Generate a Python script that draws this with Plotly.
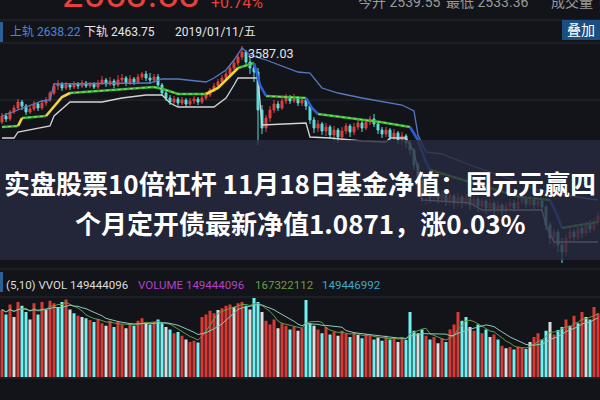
import plotly.graph_objects as go
import pandas as pd

W, H = 600, 400
BG = '#121419'
RED = '#e0403c'
CYAN = '#5fdcdc'

# ---------------- price candles (index points) ----------------
price_open = [3207,3237,3222,3257,3277,3307,3287,3257,3272,3297,
              3277,3302,3317,3352,3387,3397,3377,3392,3382,3397,
              3387,3402,3387,3397,3382,3402,3417,3397,3412,3392,
              3417,3427,3402,3422,3407,3432,3447,3427,3417,3432,
              3392,3352,3327,3307,3322,3302,3317,3297,3312,3322,
              3307,3327,3342,3367,3387,3407,3427,3447,3477,3502,
              3532,3557,3507,3477,3457,3267,3177,3227,3267,3297,
              3277,3312,3332,3312,3327,3302,3317,3287,3217,3177,
              3197,3162,3182,3142,3167,3132,3162,3187,3157,3182,
              3202,3177,3207,3222,3197,3167,3147,3167,3132,3152,
              3117,3137,3102,3067,2992,2917,2842,2867,2827,2857,
              2822,2847,2812,2837,2802,2832,2807,2827,2792,2822,
              2787,2812,2777,2802,2767,2792,2762,2787,2802,2777,
              2807,2822,2797,2817,2792,2812,2782,2692,2627,2657,
              2592,2557,2627,2657,2632,2677,2652,2692,2672,2707]
price_high = [3252,3252,3267,3292,3322,3317,3297,3287,3312,3307,
              3317,3332,3362,3402,3417,3407,3407,3402,3412,3407,
              3417,3412,3407,3407,3417,3437,3427,3432,3422,3442,
              3447,3437,3442,3432,3447,3457,3462,3452,3447,3447,
              3402,3367,3342,3337,3332,3332,3327,3327,3337,3332,
              3342,3357,3377,3402,3422,3442,3462,3492,3517,3547,
              3587.03,3567,3527,3497,3477,3292,3242,3287,3317,3312,
              3327,3347,3342,3347,3337,3332,3327,3297,3232,3217,
              3207,3202,3192,3187,3177,3182,3202,3197,3202,3217,
              3212,3222,3237,3247,3212,3182,3182,3177,3172,3162,
              3157,3147,3117,3077,3007,2937,2887,2882,2877,2872,
              2867,2862,2857,2847,2852,2842,2847,2837,2837,2832,
              2827,2822,2822,2812,2812,2802,2807,2822,2817,2827,
              2842,2837,2837,2832,2832,2822,2792,2707,2677,2672,
              2627,2647,2677,2672,2697,2692,2712,2717,2727,2757]
price_low = [3197,3207,3212,3247,3267,3267,3242,3247,3262,3262,
             3267,3287,3307,3342,3367,3362,3367,3367,3372,3372,
             3377,3377,3377,3372,3372,3392,3382,3387,3377,3382,
             3402,3387,3392,3392,3397,3417,3412,3397,3402,3377,
             3337,3312,3292,3297,3287,3292,3282,3287,3297,3292,
             3297,3317,3332,3357,3377,3397,3417,3437,3467,3487,
             3517,3487,3447,3407,3092,3147,3157,3207,3252,3262,
             3267,3297,3297,3302,3287,3287,3267,3197,3152,3157,
             3142,3137,3122,3117,3102,3112,3147,3132,3142,3167,
             3157,3167,3192,3182,3147,3127,3132,3112,3117,3097,
             3092,3077,3042,2967,2887,2807,2792,2802,2807,2797,
             2802,2787,2792,2772,2782,2777,2787,2767,2772,2757,
             2767,2747,2757,2742,2752,2737,2747,2767,2757,2762,
             2792,2777,2782,2772,2777,2757,2667,2597,2582,2557,
             2502,2537,2607,2612,2617,2627,2637,2652,2662,2692]
price_close = [3237,3222,3257,3277,3307,3287,3257,3272,3297,3277,
               3302,3317,3352,3387,3397,3377,3392,3382,3397,3387,
               3402,3387,3397,3382,3402,3417,3397,3412,3392,3417,
               3427,3402,3422,3407,3432,3447,3427,3417,3432,3392,
               3352,3327,3307,3322,3302,3317,3297,3312,3322,3307,
               3327,3342,3367,3387,3407,3427,3447,3477,3502,3532,
               3557,3507,3477,3457,3267,3177,3227,3267,3297,3277,
               3312,3332,3312,3327,3302,3317,3287,3217,3177,3197,
               3162,3182,3142,3167,3132,3162,3187,3157,3182,3202,
               3177,3207,3222,3197,3167,3147,3167,3132,3152,3117,
               3137,3102,3067,2992,2917,2842,2867,2827,2857,2822,
               2847,2812,2837,2802,2832,2807,2827,2792,2822,2787,
               2812,2777,2802,2767,2792,2762,2787,2802,2777,2807,
               2822,2797,2817,2792,2812,2782,2692,2627,2657,2592,
               2557,2627,2657,2632,2677,2652,2692,2672,2707,2737]
bar_index = list(range(len(price_close)))

# ---------------- channel lines ----------------
upper_x = [0,10,12,13,37,40,44,51,53,56,58,60,62,66,74,77,80,84,90,94,100,103,104,106,110,117,124,130,134,140,149]
upper_y = [3237,3312,3317,3397,3402,3422,3422,3407,3427,3467,3517,3577,3542,3517,3457,3452,3377,3352,3327,3312,
           3292,3262,3142,3057,3047,2992,2942,2902,2867,2842,2817]
lower_x = [0,3,4,12,13,16,17,25,30,36,40,42,44,53,56,58,59,64,65,76,77,82,90,96,97,101,102,103,104,105,117,120,135,136,138,149]
lower_y = [3127,3127,3157,3187,3237,3292,3307,3307,3327,3342,3342,3302,3282,3282,3327,3392,3427,3427,3192,3202,
           3132,3127,3112,3107,3127,3127,3092,3057,2967,2817,2802,2767,2767,2692,2607,2607]

# trend line, split by state (None separates segments)
trend_flat_x = [0,4,None,5,11,None,17,25,32,38,41,44,51,None,59,63,None,66,76,None,79,87,94.5,102,None,107,117,129.5,137,None,140,149]
trend_flat_y = [3182,3187,None,3227,3237,None,3352,3362,3372,3382,3367,3347,3347,None,3477,3502,None,3337,3327,None,
                3247,3227,3207,3182,None,2967,2907,2832,2817,None,2677,2707]
trend_up_x = [4,5,None,11,13,15,17,None,51,54,57,59]
trend_up_y = [3187,3227,None,3237,3287,3332,3352,None,3347,3377,3437,3477]
trend_down_x = [63,64.5,66,None,76,77.5,79,None,102,104,105.75,107,None,137,138.75,140]
trend_down_y = [3502,3392,3337,None,3327,3277,3247,None,3182,3117,3017,2967,None,2817,2742,2677]

# ---------------- volume ----------------
volume = [270,250,290,240,300,285,260,230,295,250,
          300,270,305,295,280,300,310,270,255,245,
          240,235,228,220,232,215,205,225,200,220,
          210,195,215,205,225,235,215,210,220,230,
          215,200,190,175,180,165,150,140,145,138,
          240,250,265,255,268,275,285,290,280,295,
          300,285,270,316,300,260,225,210,230,195,
          215,205,190,200,185,195,308,215,205,190,
          175,200,170,180,165,185,172,160,178,168,
          155,172,165,150,158,145,165,150,160,140,
          158,148,260,185,175,190,165,150,160,135,
          155,140,190,210,260,225,240,200,185,210,
          175,190,160,170,150,125,115,120,110,122,
          118,112,140,160,175,150,185,220,170,188,
          200,230,205,245,215,260,240,230,280,255]
volume_kind = list("rcrwrccwrc" "rwrrccrwcr" "wcrcrrwrcr" "rwrcrrwcrc" "cwcrcrwrrc"
                   "rrrrwrrrwr" "rcwccwrrrw" "rrcrwrccwr" "crcrwrrcrw" "crrcwcrcrw"
                   "rcccwcrcrw" "rcrrrccwrc" "rcwrcrwrcr" "rcwrrccwrc" "crwrcrwcrr")
kind_color = {'r': '#d93a36', 'c': '#6ff3f3', 'w': '#dcdcdc'}
vol_ma5 = pd.Series(volume).rolling(5, min_periods=1).mean()
vol_ma10 = pd.Series(volume).rolling(10, min_periods=1).mean()

fig = go.Figure()
fig.add_trace(go.Candlestick(
    x=bar_index, open=price_open, high=price_high, low=price_low, close=price_close,
    increasing=dict(line=dict(color=RED, width=1), fillcolor=RED),
    decreasing=dict(line=dict(color=CYAN, width=1), fillcolor=CYAN),
    whiskerwidth=0, showlegend=False, hoverinfo='skip'))
fig.add_trace(go.Scatter(x=upper_x, y=upper_y, mode='lines', line=dict(color='#5878c0', width=1.3),
                         showlegend=False, hoverinfo='skip'))
fig.add_trace(go.Scatter(x=lower_x, y=lower_y, mode='lines', line=dict(color='#d4d4d4', width=1.3),
                         showlegend=False, hoverinfo='skip'))
fig.add_trace(go.Scatter(x=trend_flat_x, y=trend_flat_y, mode='lines', line=dict(color='#36b836', width=2.6),
                         showlegend=False, hoverinfo='skip', connectgaps=False))
fig.add_trace(go.Scatter(x=trend_flat_x, y=trend_flat_y, mode='lines', line=dict(color='#9ee07a', width=1.0, dash='dot'),
                         showlegend=False, hoverinfo='skip', connectgaps=False))
fig.add_trace(go.Scatter(x=trend_up_x, y=trend_up_y, mode='lines', line=dict(color='#f2d43a', width=2.6),
                         showlegend=False, hoverinfo='skip', connectgaps=False))
fig.add_trace(go.Scatter(x=trend_down_x, y=trend_down_y, mode='lines', line=dict(color='#2b5ed8', width=2.6),
                         showlegend=False, hoverinfo='skip', connectgaps=False))

fig.add_trace(go.Bar(x=bar_index, y=volume, marker=dict(color=[kind_color[k] for k in volume_kind], line=dict(width=0)),
                     xaxis='x2', yaxis='y2', showlegend=False, hoverinfo='skip'))
fig.add_trace(go.Scatter(x=bar_index, y=vol_ma5, mode='lines', line=dict(color='#5f9f45', width=1),
                         xaxis='x2', yaxis='y2', showlegend=False, hoverinfo='skip'))
fig.add_trace(go.Scatter(x=bar_index, y=vol_ma10, mode='lines', line=dict(color='#8cc8b8', width=1),
                         xaxis='x2', yaxis='y2', showlegend=False, hoverinfo='skip'))


def py(p):
    return 1 - p / H


shapes = []
for yy in [20, 43, 100, 269, 297, 378]:
    shapes.append(dict(type='line', xref='paper', yref='paper', x0=0, x1=1, y0=py(yy), y1=py(yy),
                       line=dict(color='#262a31', width=1), layer='below'))
shapes.append(dict(type='rect', xref='paper', yref='paper', x0=0, x1=1, y0=py(260), y1=py(140),
                   fillcolor='rgba(40,42,64,0.8)', line=dict(width=0), layer='above'))
shapes.append(dict(type='rect', xref='paper', yref='paper', x0=562 / W, x1=1, y0=py(40), y1=py(20),
                   fillcolor='#1b4f82', line=dict(width=0), layer='above'))
for y0, y1 in [(22, 42), (272, 292)]:
    shapes.append(dict(type='rect', xref='paper', yref='paper', x0=0, x1=3 / W, y0=py(y1), y1=py(y0),
                       fillcolor='#2b5f96', line=dict(width=0), layer='above'))

HF = "Roboto, 'Noto Sans CJK SC', sans-serif"
CJK = "'Noto Sans CJK SC', sans-serif"
ann = []


def label(text, x, y, size, color, xanchor='left', family=HF):
    ann.append(dict(text=text, x=x / W, y=py(y), xref='paper', yref='paper', xanchor=xanchor, yanchor='middle',
                    showarrow=False, font=dict(size=size, color=color, family=family)))


label('2553.83', 60, -6, 38, '#e8403a')
label('+0.74%', 209, 2, 16, '#e8403a')
label('今开 2539.55', 356, 2, 14, '#9a9a9a')
label('最低 2533.36', 444, 2, 14, '#9a9a9a')
label('成交量 1.49亿', 549, 2, 14, '#9a9a9a')
label('上轨 2638.22', 8, 32, 12, '#4a86d6')
label('下轨 2463.75', 82, 32, 12, '#e6e6e6')
label('2019/01/11/五', 173, 32, 12, '#e6e6e6')
label('叠加', 581, 30, 14, '#ffffff', xanchor='center')
label('3587.03', 246, 53, 12.5, '#e6e6e6')
label('(5,10) VVOL 149444096', 4, 285, 11.5, '#dcdcdc')
label('VOLUME 149444096', 136, 285, 11.5, '#b240c8')
label('167322112', 253, 285, 11.5, '#6e9a48')
label('149446992', 320, 285, 11.5, '#3fa8c8')
label('<b>实盘股票10倍杠杆 11月18日基金净值：国元元赢四</b>', 300, 182, 26, '#ffffff', xanchor='center', family=CJK)
label('<b>个月定开债最新净值1.0871，涨0.03%</b>', 300, 222, 26, '#ffffff', xanchor='center', family=CJK)

N = len(price_close)
fig.update_layout(
    width=W, height=H, autosize=False, margin=dict(l=0, r=0, t=0, b=0),
    paper_bgcolor=BG, plot_bgcolor='rgba(0,0,0,0)',
    xaxis=dict(domain=[0, 1], range=[-0.5, N - 0.5], visible=False, rangeslider=dict(visible=False)),
    yaxis=dict(domain=[py(268), py(40)], range=[2477, 3617], visible=False),
    xaxis2=dict(domain=[0, 1], range=[-0.5, N - 0.5], visible=False, anchor='y2', matches='x'),
    yaxis2=dict(domain=[py(377), py(297)], range=[0, 320], visible=False),
    bargap=0.25, shapes=shapes, annotations=ann, showlegend=False,
)
fig.write_html('out.html', config={'displayModeBar': False},
               post_script="document.body.style.margin='0';document.body.style.overflow='hidden';")
